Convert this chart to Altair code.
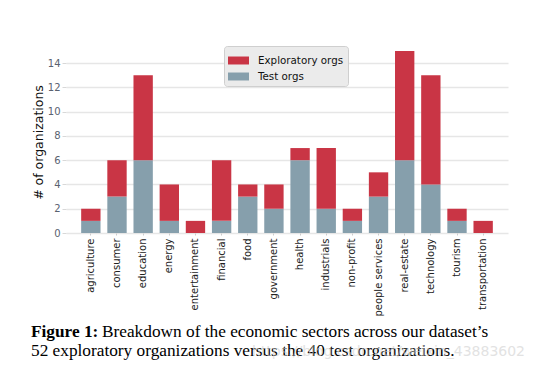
import altair as alt
import pandas as pd

sectors = ["agriculture", "consumer", "education", "energy", "entertainment", "financial",
           "food", "government", "health", "industrials", "non-profit", "people services",
           "real-estate", "technology", "tourism", "transportation"]
test_orgs = [1, 3, 6, 1, 0, 1, 3, 2, 6, 2, 1, 3, 6, 4, 1, 0]
explor_orgs = [1, 3, 7, 3, 1, 5, 1, 2, 1, 5, 1, 2, 9, 9, 1, 1]
series_names = ["Exploratory orgs", "Test orgs"]
series_colors = ["#c93545", "#869fac"]
y_ticks = [0, 2, 4, 6, 8, 10, 12, 14]
caption_bold = "Figure 1:"
caption_line1 = "Breakdown of the economic sectors across our dataset\u2019s"
caption_line2 = "52 exploratory organizations versus the 40 test organizations."
watermark = "https://blog.csdn.net/weixin_43883602"

rows = []
for s, t, e in zip(sectors, test_orgs, explor_orgs):
    rows.append({"sector": s, "series": "Test orgs", "count": t, "ord": 0})
    rows.append({"sector": s, "series": "Exploratory orgs", "count": e, "ord": 1})
df = pd.DataFrame(rows)

W, H = 442, 182
FONT = "DejaVu Sans"

bars = alt.Chart(df).mark_bar().encode(
    x=alt.X("sector:N", sort=sectors,
            scale=alt.Scale(paddingInner=0.26, paddingOuter=0.58),
            axis=alt.Axis(title=None, labelAngle=-90, labelFontSize=10, labelColor="#222222",
                          labelFont=FONT, domain=False, ticks=True, tickSize=2,
                          tickColor="#cccccc", labelPadding=3, grid=False)),
    y=alt.Y("count:Q", stack="zero",
            scale=alt.Scale(domain=[0, 15], nice=False),
            axis=alt.Axis(title="# of organizations", values=y_ticks, titleFontSize=12.5,
                          titleFont=FONT, titleFontWeight="normal", titleColor="#111111",
                          labelFontSize=10, labelFont=FONT, labelColor="#5a6270",
                          domain=False, tickSize=4, tickColor="#d8d8d8", labelPadding=2,
                          titlePadding=2, grid=True, gridColor="#e6e6e6", gridWidth=1.5)),
    color=alt.Color("series:N", scale=alt.Scale(domain=series_names, range=series_colors),
                    legend=alt.Legend(title=None, orient="none", legendX=158, legendY=-5,
                                      fillColor="#ebebeb", strokeColor="#cfcfcf",
                                      cornerRadius=3, padding=4,
                                      symbolType="M-1,-0.38H1V0.38H-1Z", symbolSize=441,
                                      symbolStrokeWidth=0, labelFontSize=10.3, labelFont=FONT,
                                      labelColor="#111111", labelOffset=9, rowPadding=-6)),
    order=alt.Order("ord:Q"),
)

cap_df = pd.DataFrame({"t": [caption_bold]})
cap_bold = alt.Chart(cap_df).mark_text(
    font="Liberation Serif", fontSize=17.3, fontWeight="bold", align="left", baseline="alphabetic",
    color="#000000").encode(text="t:N", x=alt.value(31 - 66), y=alt.value(337 - 51))
cap_l1 = alt.Chart(pd.DataFrame({"t": [caption_line1]})).mark_text(
    font="Liberation Serif", fontSize=17.3, align="left", baseline="alphabetic",
    color="#000000").encode(text="t:N", x=alt.value(102 - 66), y=alt.value(337 - 51))
cap_l2 = alt.Chart(pd.DataFrame({"t": [caption_line2]})).mark_text(
    font="Liberation Serif", fontSize=17.3, align="left", baseline="alphabetic",
    color="#000000").encode(text="t:N", x=alt.value(31 - 66), y=alt.value(356 - 51))
wm = alt.Chart(pd.DataFrame({"t": [watermark]})).mark_text(
    font=FONT, fontSize=14, align="left", baseline="alphabetic",
    color="#d0d0d0", opacity=0.6).encode(text="t:N", x=alt.value(252 - 66), y=alt.value(356 - 51))

chart = alt.layer(bars, cap_bold, cap_l1, cap_l2, wm).properties(
    width=W, height=H,
    autosize=alt.AutoSizeParams(type="none"),
    padding={"left": 66, "top": 51, "right": 544 - 66 - W, "bottom": 377 - 51 - H},
    background="white",
).configure_view(stroke=None)

chart.save("out.html", embed_options={"renderer": "svg", "actions": False})
